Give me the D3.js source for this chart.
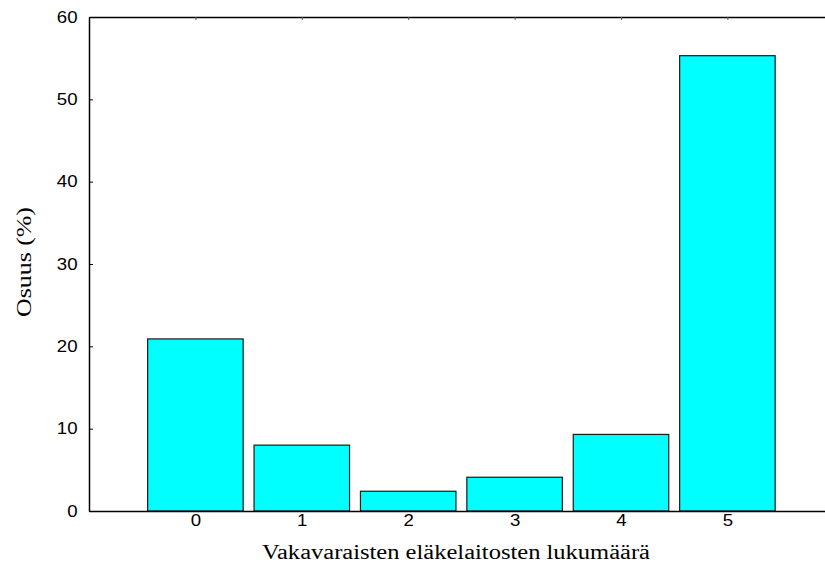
<!DOCTYPE html>
<html><head><meta charset="utf-8">
<script src="https://cdn.jsdelivr.net/npm/d3@7"></script>
<style>body{margin:0;background:#fff}</style>
</head><body>
<svg id="c" width="825" height="564"></svg>
<script>
const categories = [0, 1, 2, 3, 4, 5];
const values = [20.9, 8.0, 2.4, 4.1, 9.3, 55.3];
const yTicks = [0, 10, 20, 30, 40, 50, 60];
const xTitle = "Vakavaraisten eläkelaitosten lukumäärä";
const yTitle = "Osuus (%)";

(function () {
const svg = d3.select("#c");
const mLeft = 89, mTop = 17, mBottom = 511;
const x = d3.scaleLinear().domain([-1, 6]).range([mLeft, mLeft + 7 * 106.4]);
const y = d3.scaleLinear().domain([0, 60]).range([mBottom, mTop]);
const bw = 95.5;
const sans = "Liberation Sans, Arial, sans-serif";
const serif = "Liberation Serif, Times New Roman, serif";

svg.append("g").selectAll("rect").data(values).join("rect")
  .attr("x", (d, i) => x(categories[i]) - bw / 2)
  .attr("y", d => y(d))
  .attr("width", bw)
  .attr("height", d => y(0) - y(d))
  .attr("fill", "#00ffff")
  .attr("stroke", "#1a1a1a")
  .attr("stroke-width", 1.2);

function stretch(sel, k) {
  sel.each(function () {
    const w = this.getComputedTextLength();
    d3.select(this).attr("textLength", w * k).attr("lengthAdjust", "spacingAndGlyphs");
  });
}

const ya = svg.append("g").attr("transform", `translate(${mLeft},0)`)
  .call(d3.axisLeft(y).tickValues(yTicks).tickSizeInner(-4).tickSizeOuter(0).tickPadding(11.5));
ya.select(".domain").attr("stroke", "#000").attr("stroke-width", 1.5);
ya.selectAll("text").attr("font-family", sans).attr("font-size", 16.5).attr("fill", "#000").call(stretch, 1.13);

const xa = svg.append("g").attr("transform", `translate(0,${mBottom})`)
  .call(d3.axisBottom(x).tickValues(categories).tickFormat(d3.format("d")).tickSizeInner(0).tickSizeOuter(0).tickPadding(3.5));
xa.select(".domain").attr("stroke", "#000").attr("stroke-width", 1.5);
xa.selectAll("text").attr("font-family", sans).attr("font-size", 16.5).attr("fill", "#000").call(stretch, 1.13);

const ta = svg.append("g").attr("transform", `translate(0,${mTop})`)
  .call(d3.axisTop(x).tickValues(categories).tickFormat("").tickSizeInner(-3).tickSizeOuter(0));
ta.select(".domain").attr("stroke", "#000").attr("stroke-width", 1.5);
ta.selectAll("line").attr("stroke", "#555");

svg.append("text").attr("x", 456).attr("y", 559).attr("text-anchor", "middle")
  .attr("font-family", serif).attr("font-size", 20)
  .attr("textLength", 388).attr("lengthAdjust", "spacingAndGlyphs").text(xTitle);
svg.append("text").attr("transform", "translate(30.5,262) rotate(-90)").attr("text-anchor", "middle")
  .attr("font-family", serif).attr("font-size", 21)
  .attr("textLength", 110).attr("lengthAdjust", "spacingAndGlyphs").text(yTitle);
})();
</script>
</body></html>
